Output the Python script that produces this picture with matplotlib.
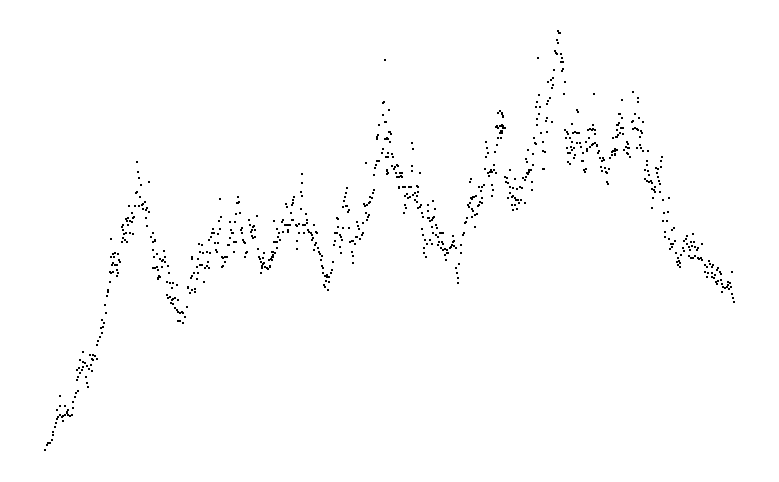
import matplotlib
matplotlib.use("Agg")
import matplotlib.pyplot as plt
import numpy as np

climb = [
    (45, 450), (46.7, 445), (48, 443), (50, 443), (52, 440), (53, 435), (53, 432), (55, 427),
    (56, 423), (57, 419), (58, 417), (60, 415), (62, 417), (63, 416), (65, 415), (67, 413),
    (68, 415), (70, 416), (72, 415), (63, 421), (67, 412), (68, 410), (65, 406), (60, 406),
    (57, 410), (60, 396), (73, 408), (73, 402), (75, 397), (76, 393), (78, 391), (77, 380),
    (78, 377), (80, 373), (82, 370), (79, 368), (83, 367), (85, 363), (87, 366), (89, 369),
    (92, 371), (91, 365), (93, 360), (95, 356), (93, 355), (97, 359), (87, 383), (88, 387),
    (86, 377), (83, 362), (83, 352), (80, 360), (77, 370), (90, 355), (92, 359),
    (97, 345), (98, 341), (100, 337), (102, 333), (101, 328), (103, 327), (104, 323), (102, 320),
    (106, 313), (105, 305), (107, 296), (108, 292), (108, 290), (110, 282), (111, 273), (113, 272),
    (112, 265), (113, 263), (115, 265), (117, 265), (114, 257), (111, 257), (113, 254), (115, 253),
    (118, 254), (119, 260), (120, 262), (117, 270), (118, 273), (117, 276), (111, 239), (110, 272),
    (122, 242), (123, 238), (125, 240), (127, 242), (124, 234), (126, 233), (123, 230), (122, 227),
    (123, 225), (126, 219), (127, 221), (128, 218), (130, 221), (132, 222), (133, 218), (134, 217),
    (130, 233), (133, 234), (128, 225), (132, 213), (129, 206), (135, 206), (139, 206), (142, 205),
    (143, 204), (145, 202), (140, 197), (136, 193), (137, 192), (141, 185), (139, 178), (138, 172),
    (137, 162), (143, 209), (146, 210), (147, 208), (149, 212), (149, 182), (146, 218), (147, 226),
    (151, 237), (153, 233), (153, 242), (155, 240), (153, 250), (154, 257), (157, 254), (153, 268),
    (155, 268), (157, 267), (158, 278), (159, 276),
]

first_dip = [
    (155, 241), (157, 254), (160, 259), (162, 261), (163, 260), (164, 251), (165, 257), (165, 262),
    (158, 270), (157, 267), (162, 267), (168, 266), (160, 277), (158, 279), (167, 282), (169, 273),
    (170, 283), (173, 283), (177, 285), (172, 288), (167, 295), (168, 298), (170, 297), (172, 300),
    (173, 299), (175, 298), (178, 300), (171, 303), (173, 304), (175, 308), (177, 310), (178, 312),
    (180, 313), (182, 312), (183, 313), (185, 317), (178, 321), (180, 321), (183, 323), (187, 307),
    (188, 287), (188, 288), (190, 293), (192, 290), (191, 278), (192, 276), (194, 273), (195, 289),
    (195, 292), (197, 279), (198, 273), (197, 267), (198, 259), (200, 265), (202, 265), (192, 257),
    (192, 259), (199, 244), (202, 245), (200, 252), (203, 253), (205, 268), (204, 282), (207, 266),
    (208, 262), (209, 268), (207, 252), (210, 253), (209, 240), (211, 237), (212, 233), (214, 233),
    (213, 229), (215, 243), (218, 243), (217, 252), (216, 250), (218, 234), (220, 229), (219, 221),
    (221, 217), (220, 199), (222, 257), (223, 258), (225, 257), (227, 257), (223, 266), (222, 267),
    (225, 262), (228, 245), (229, 245), (230, 238), (231, 230), (232, 233), (233, 233), (234, 242),
    (236, 242), (234, 252), (230, 222), (235, 222), (236, 214), (237, 203), (238, 203), (238, 197),
    (239, 202), (240, 213), (241, 230), (242, 233), (242, 228), (243, 240), (244, 242), (245, 243),
    (246, 253), (247, 252), (245, 257), (249, 220), (250, 225), (251, 232), (252, 230), (253, 227),
    (254, 226), (255, 230), (252, 236), (253, 238), (257, 216), (255, 237), (258, 249), (259, 257),
    (260, 259), (261, 262), (262, 266), (261, 273), (262, 268), (263, 264), (264, 263), (265, 267),
    (267, 268), (268, 269), (270, 266), (269, 260), (271, 259), (272, 257), (272, 252), (273, 252),
    (274, 221), (273, 255), (264, 253), (263, 258), (275, 242),
]

middle = [
    (270, 267), (272, 260), (273, 257), (273, 252), (275, 253), (277, 248), (274, 242), (277, 242),
    (278, 237), (280, 240), (277, 229), (279, 233), (274, 221), (282, 222), (283, 220), (283, 232),
    (285, 225), (287, 225), (288, 225), (290, 225), (288, 230), (288, 232), (286, 204), (287, 207),
    (291, 213), (292, 205), (293, 203), (293, 200), (294, 197), (292, 220), (293, 220), (296, 225),
    (297, 226), (297, 241), (297, 249), (299, 224), (299, 233), (301, 209), (302, 196), (301, 192),
    (302, 183), (302, 174), (303, 225), (304, 233), (305, 225), (307, 223), (307, 220), (306, 214),
    (308, 230), (309, 232), (311, 233), (312, 235), (313, 238), (312, 240), (314, 225), (316, 232),
    (317, 233), (315, 245), (316, 243), (314, 250), (318, 248), (319, 252), (320, 254), (321, 260),
    (322, 256), (322, 266), (323, 268), (323, 273), (325, 276), (327, 275), (327, 277), (326, 281),
    (329, 277), (331, 273), (332, 270), (333, 262), (329, 282), (324, 285), (325, 287), (328, 290),
    (334, 245), (335, 241), (335, 233), (337, 233), (337, 218), (338, 219), (338, 227), (340, 235),
    (341, 237), (340, 247), (341, 253), (342, 240), (343, 228), (343, 207), (344, 201), (345, 197),
    (346, 193), (347, 188), (346, 206), (347, 206), (348, 212), (349, 210), (349, 228), (350, 242),
    (352, 241), (353, 241), (352, 252), (353, 256), (353, 263), (355, 244), (356, 237), (357, 237),
    (357, 222), (358, 226), (359, 229), (360, 239), (362, 235), (363, 233), (363, 223), (364, 204),
    (365, 206), (366, 213), (367, 205), (367, 220), (368, 217), (369, 215), (369, 203), (370, 197),
    (372, 198), (373, 193), (374, 190), (370, 202), (366, 163), (374, 175), (375, 168), (376, 165),
    (377, 161), (379, 161), (377, 139), (378, 135), (377, 137), (379, 125), (382, 153), (383, 149),
    (385, 139), (387, 139), (386, 122), (383, 115), (383, 103), (384, 102), (385, 60), (387, 171),
    (387, 174), (389, 110), (389, 132), (388, 157), (386, 157),
]

second_dip = [
    (389, 110), (385, 122), (390, 132), (391, 134), (387, 138), (388, 139), (390, 142), (388, 153),
    (392, 154), (393, 157), (386, 157), (387, 170), (388, 173), (392, 166), (395, 167), (397, 165),
    (398, 166), (394, 169), (396, 173), (397, 177), (399, 177), (401, 176), (402, 177), (400, 173),
    (402, 173), (399, 187), (399, 188), (403, 187), (405, 187), (405, 196), (407, 194), (408, 198),
    (409, 187), (411, 187), (410, 197), (413, 195), (415, 193), (417, 186), (418, 187), (418, 192),
    (417, 196), (415, 200), (417, 202), (405, 205), (406, 208), (404, 213), (418, 208), (420, 207),
    (421, 205), (422, 213), (412, 143), (413, 149), (412, 166), (412, 171), (420, 173), (423, 217),
    (428, 205), (428, 211), (428, 218), (429, 218), (430, 221), (432, 220), (433, 218), (433, 201),
    (435, 209), (434, 217), (432, 227), (436, 225), (437, 228), (422, 229), (423, 235), (425, 240),
    (427, 244), (424, 248), (424, 253), (426, 257), (430, 240), (432, 244), (433, 233), (436, 235),
    (438, 237), (440, 233), (442, 233), (443, 233), (438, 245), (439, 242), (442, 242), (443, 244),
    (441, 248), (443, 250), (445, 249), (447, 250), (445, 255), (447, 253), (446, 260), (448, 253),
    (450, 248), (451, 247), (452, 245), (453, 242), (454, 241), (453, 236), (454, 246), (456, 248),
    (461, 253), (461, 245), (463, 235), (464, 233), (465, 223), (466, 222), (467, 218), (468, 205),
    (470, 203), (469, 207), (471, 198), (472, 199), (473, 197), (474, 197), (476, 196), (471, 179),
    (470, 182), (472, 209), (473, 211), (472, 217), (475, 215), (477, 214), (475, 227), (478, 206),
    (479, 205), (480, 202), (482, 203), (479, 187), (481, 191), (482, 198), (482, 187), (484, 185),
    (485, 169), (486, 142), (487, 148), (486, 157), (488, 153), (488, 173), (489, 176), (490, 172),
    (491, 170), (492, 172), (494, 165), (494, 170), (496, 173), (492, 185), (493, 190), (492, 196),
    (495, 152), (497, 145), (498, 138), (500, 133), (498, 128), (497, 126), (496, 127), (500, 126),
    (502, 126), (502, 131), (503, 128), (498, 113), (500, 111), (502, 114), (503, 116), (505, 177),
    (456, 268), (457, 273), (458, 278), (458, 283), (459, 264),
]

peak = [
    (500, 111), (502, 113), (503, 117), (502, 125), (503, 126), (501, 131), (502, 133), (501, 138),
    (505, 128), (510, 170), (505, 177), (507, 178), (506, 182), (508, 183), (510, 187), (515, 179),
    (513, 188), (517, 189), (520, 187), (522, 188), (510, 193), (508, 198), (512, 197), (513, 196),
    (515, 198), (516, 200), (518, 200), (521, 200), (519, 203), (515, 205), (512, 205), (517, 209),
    (513, 210), (525, 203), (523, 178), (525, 180), (526, 177), (527, 173), (528, 174), (529, 172),
    (529, 170), (527, 162), (526, 159), (528, 150), (531, 170), (532, 182), (532, 190), (533, 165),
    (533, 154), (534, 138), (535, 143), (536, 144), (537, 125), (537, 119), (539, 114), (540, 107),
    (536, 107), (537, 102), (539, 95), (538, 58), (541, 133), (543, 142), (543, 151), (545, 152),
    (543, 169), (544, 169), (547, 132), (546, 121), (547, 118), (547, 104), (548, 101), (550, 98),
    (548, 82), (551, 80), (552, 88), (553, 85), (552, 122), (553, 78), (554, 70), (555, 51),
    (556, 53), (557, 54), (557, 40), (558, 31), (559, 33), (560, 33), (558, 43), (561, 54),
    (562, 58), (563, 62), (561, 62), (563, 69), (562, 71), (564, 94), (565, 82), (565, 130),
    (567, 132), (566, 138), (568, 134), (570, 138), (572, 124), (573, 133), (575, 132), (577, 133),
    (578, 133), (579, 133), (572, 142), (568, 153), (570, 153), (567, 148), (572, 150), (568, 162),
    (570, 164), (571, 147), (574, 148), (575, 155), (574, 158), (577, 143), (580, 143), (581, 147),
    (583, 153), (582, 161), (583, 161), (584, 170), (585, 172), (586, 169), (587, 149), (587, 151),
    (586, 142), (589, 138), (588, 130), (590, 129), (592, 130), (593, 129), (593, 125), (595, 130),
    (595, 134), (592, 145), (590, 147), (593, 144), (595, 143), (597, 145), (597, 146), (598, 153),
    (599, 151), (600, 158), (602, 161), (601, 167), (602, 171), (603, 158), (604, 160), (605, 168),
    (606, 172), (607, 173), (607, 182), (608, 184), (609, 169), (610, 158), (612, 152), (613, 151),
    (615, 151), (615, 154), (612, 155), (613, 138), (616, 137), (617, 130), (618, 125), (619, 114),
    (594, 94), (577, 110), (578, 112),
]

descent = [
    (622, 100), (633, 92), (638, 98), (638, 102), (620, 114), (622, 118), (635, 114), (639, 118),
    (633, 121), (632, 122), (643, 122), (619, 123), (617, 125), (621, 128), (623, 128), (633, 129),
    (635, 128), (637, 129), (638, 130), (641, 131), (642, 133), (620, 133), (617, 137), (618, 135),
    (623, 134), (627, 142), (628, 144), (640, 137), (640, 145), (626, 147), (628, 148), (629, 148),
    (624, 150), (637, 148), (641, 148), (643, 151), (648, 151), (615, 149), (617, 150), (615, 155),
    (627, 153), (628, 154), (630, 157), (662, 157), (647, 161), (661, 161), (647, 165), (656, 168),
    (658, 169), (661, 167), (645, 170), (648, 171), (657, 173), (649, 175), (658, 177), (645, 179),
    (647, 181), (649, 182), (651, 181), (652, 183), (659, 181), (660, 184), (655, 187), (654, 190),
    (652, 189), (655, 192), (660, 192), (653, 198), (663, 200), (669, 198), (652, 208), (664, 213),
    (668, 212), (663, 221), (667, 221), (665, 232), (672, 230), (674, 228), (665, 237), (669, 239),
    (671, 244), (673, 244), (675, 241), (672, 247), (670, 249), (687, 236), (686, 239), (684, 241),
    (683, 248), (684, 251), (687, 244), (689, 247), (691, 242), (693, 234), (694, 242), (692, 246),
    (695, 247), (698, 248), (702, 244), (697, 250), (690, 250), (689, 256), (691, 258), (693, 258),
    (695, 256), (698, 258), (699, 259), (701, 258), (702, 260), (676, 253), (678, 258), (677, 262),
    (679, 261), (680, 263), (681, 255), (678, 265), (680, 267), (705, 265), (707, 267), (709, 261),
    (710, 264), (712, 267), (713, 265), (705, 272), (708, 273), (707, 277), (712, 273), (712, 277),
    (715, 275), (714, 278), (717, 270), (718, 268), (720, 272), (721, 274), (716, 282), (717, 284),
    (718, 281), (721, 280), (722, 284), (723, 287), (725, 288), (727, 287), (728, 285), (728, 282),
    (730, 283), (731, 287), (729, 289), (732, 272), (732, 294), (733, 298), (734, 302), (722, 292),
]

segments = [climb, first_dip, middle, second_dip, peak, descent]
pts = np.array([p for seg in segments for p in seg])

fig = plt.figure(figsize=(7.79, 4.82), dpi=100)
ax = fig.add_axes([0, 0, 1, 1])
ax.plot(pts[:, 0], pts[:, 1], linestyle="none", marker="s",
        markersize=1.6, markeredgewidth=0, color="black", antialiased=False)
ax.set_xlim(0, 779)
ax.set_ylim(482, 0)
ax.axis("off")

fig.savefig("out.png", dpi=100, facecolor="white")
